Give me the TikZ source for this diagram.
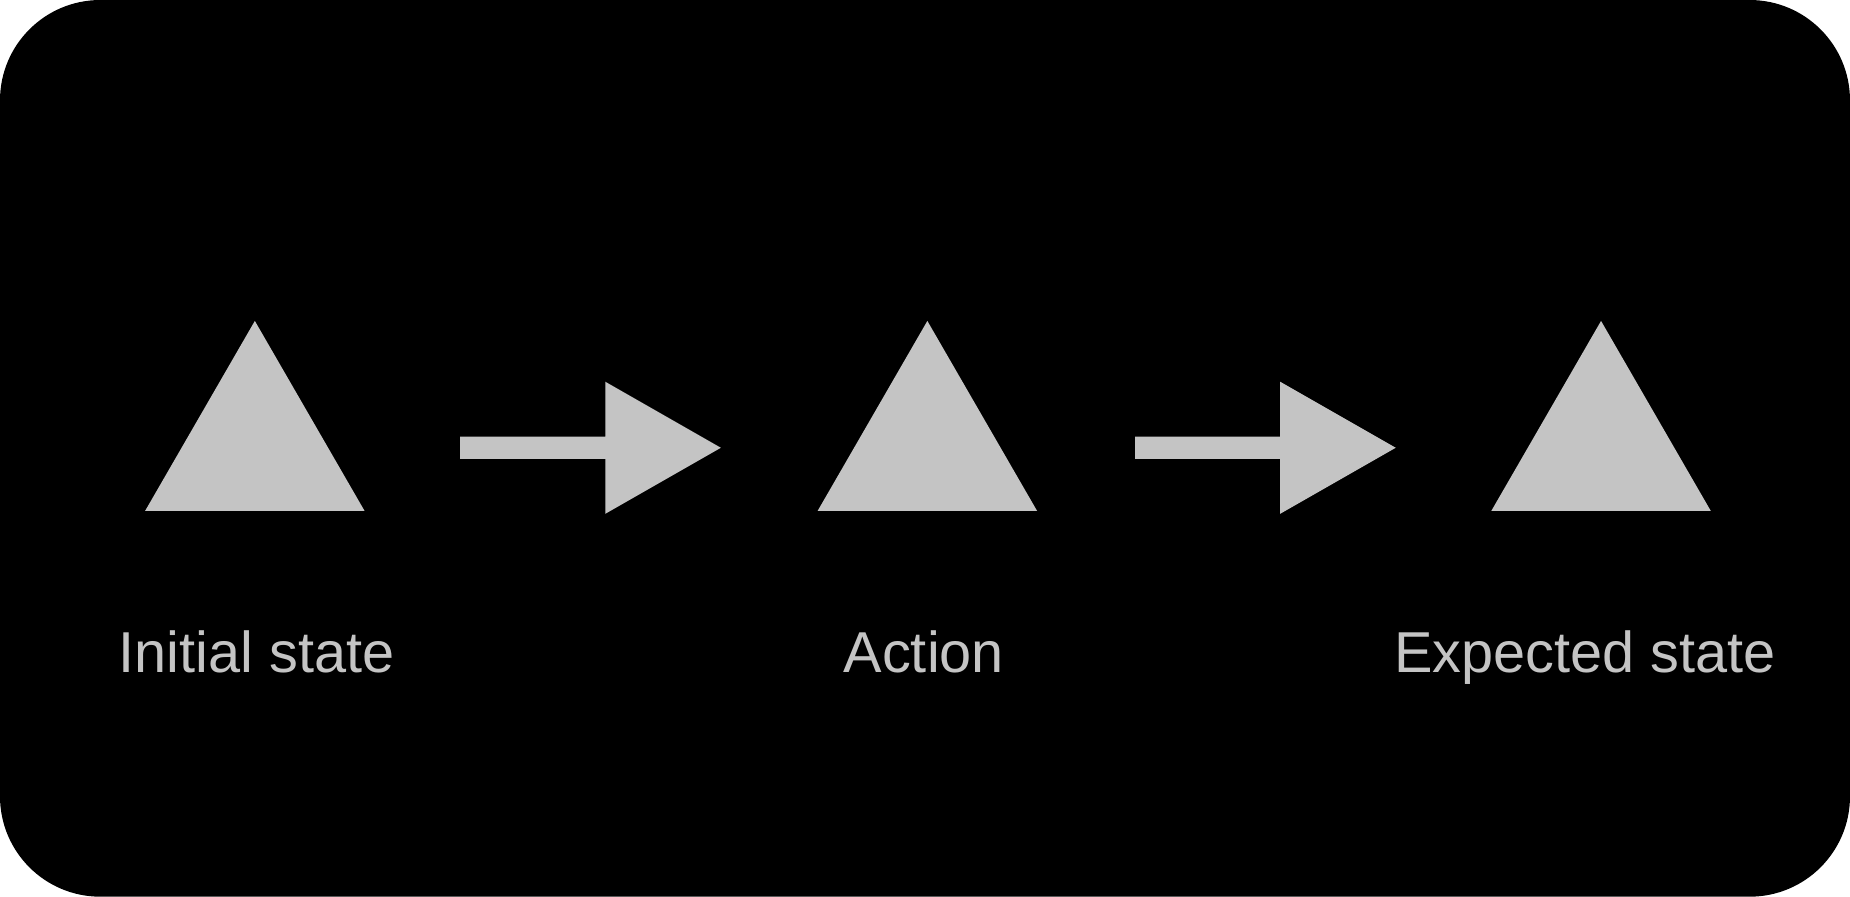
\documentclass[tikz,border=0pt]{standalone}
\usepackage{fontspec}
\setmainfont{Liberation Sans}
\usepackage{xcolor}
\usepackage{tikz}
\usetikzlibrary{
	calc,
	positioning
}
\definecolor{lgray}{rgb}{0.77, 0.77, 0.77}
\definecolor{bg}{rgb}{0, 0, 0}

\begin{document}
\begin{tikzpicture}[x=0.01cm, y=-0.01cm]

	% Background
		\fill[bg, rounded corners=0.85cm] (0,0) rectangle (1568,760);

	% Shapes
		% Draws a triangle with its apex at the specified coordinate
		\newcommand\drawtriangle[1] {
			\fill[lgray] (#1) -- +(93,161) -- +(-93,161) -- cycle;
		}
		% Draws a block arrow starting at the specified coordinate (left end, middle)
		\newcommand\drawblockarrow[1] {
			\fill[lgray] (#1) ++(0,-9.5) -- +(123,0) -- +(123,-46.5) -- +(221,9.5)
				-- +(123,65.5) -- +(123,19) -- +(0,19) -- cycle;
		}
		\drawtriangle{216,272}
		\drawtriangle{786,272}
		\drawtriangle{1357,272}

		\drawblockarrow{390,379.5}
		\drawblockarrow{962,379.5}

	% Labels
		\tikzset{label text/.style={anchor=base, text=lgray, font=\fontsize{13.9}{16}\selectfont, inner sep=0}}
		\node[label text] (initial) at (217.5,570) {Initial state};
		\node[label text] (action) at (783,570) {Action};
		\node[label text] (expected) at (1343.5,570) {Expected state};
\end{tikzpicture}
\end{document}
